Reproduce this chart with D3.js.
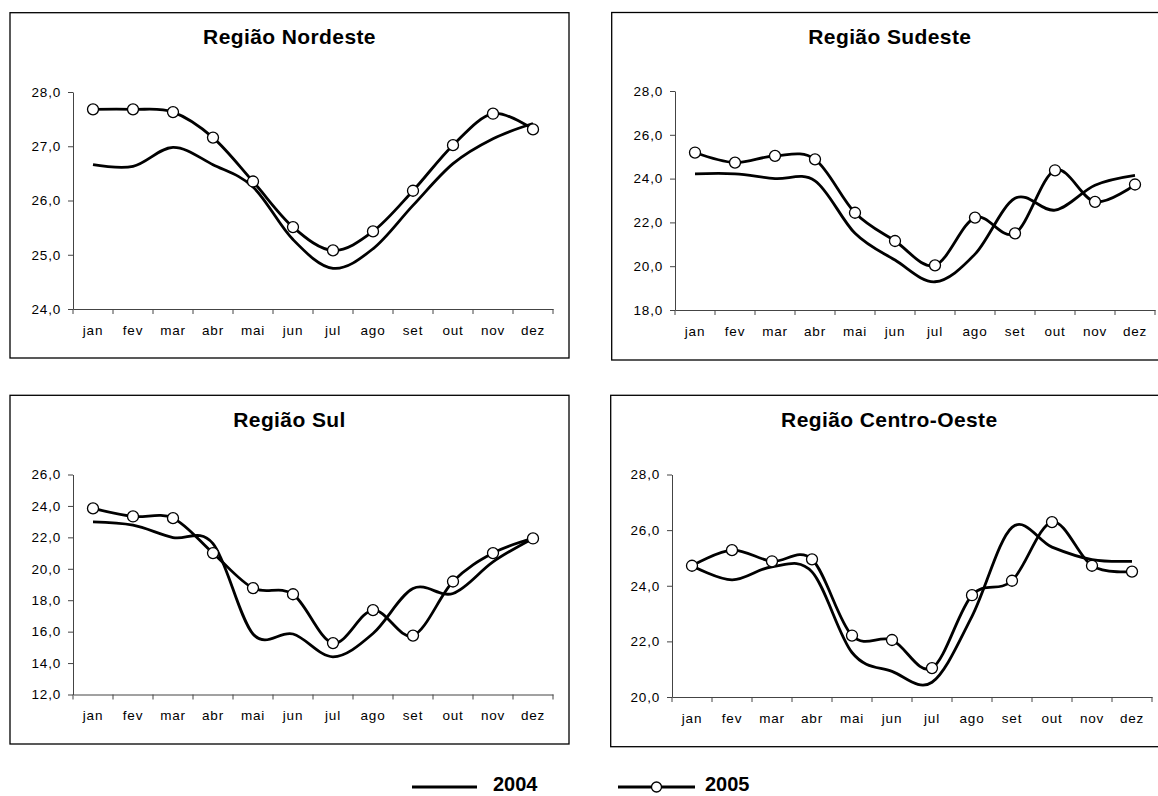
<!DOCTYPE html>
<html lang="pt">
<head>
  <meta charset="UTF-8">
  <title>Temperatura média mensal por região - 2004 e 2005</title>
  <script src="https://d3js.org/d3.v7.min.js"></script>
  <style>
    body { margin: 0; background: #fff; font-family: Arial, "Liberation Sans", sans-serif; }
    .tick text { font-size: 13.5px; letter-spacing: 0.8px; fill: #000; }
    .domain, .tick line { stroke: #444; }
    .title { font-size: 21px; font-weight: bold; letter-spacing: 0.4px; }
    .legend-text { font-size: 20px; font-weight: bold; }
  </style>
</head>
<body>
  <div id="chart"></div>
  <script>
    // dados
    const months = ["jan", "fev", "mar", "abr", "mai", "jun", "jul", "ago", "set", "out", "nov", "dez"];
    const regions = ["Região Nordeste", "Região Sudeste", "Região Sul", "Região Centro-Oeste"];

    const nordeste2004 = [26.66, 26.63, 26.98, 26.66, 26.25, 25.28, 24.75, 25.11, 25.91, 26.68, 27.14, 27.42];
    const nordeste2005 = [27.68, 27.68, 27.63, 27.16, 26.35, 25.51, 25.08, 25.43, 26.18, 27.02, 27.60, 27.31];

    const sudeste2004 = [24.22, 24.22, 24.0, 23.9, 21.5, 20.28, 19.29, 20.55, 23.1, 22.56, 23.7, 24.15];
    const sudeste2005 = [25.19, 24.73, 25.04, 24.88, 22.44, 21.15, 20.04, 22.22, 21.50, 24.38, 22.94, 23.73];

    const sul2004 = [22.99, 22.78, 21.99, 21.6, 15.85, 15.85, 14.4, 15.88, 18.74, 18.43, 20.44, 21.93];
    const sul2005 = [23.84, 23.33, 23.22, 21.0, 18.77, 18.38, 15.27, 17.37, 15.75, 19.19, 21.0, 21.93];

    const centroOeste2004 = [24.72, 24.21, 24.68, 24.5, 21.6, 20.92, 20.53, 22.9, 26.1, 25.39, 24.94, 24.88];
    const centroOeste2005 = [24.72, 25.28, 24.88, 24.95, 22.21, 22.05, 21.04, 23.66, 24.18, 26.29, 24.72, 24.51];

    const ticksNordeste = [24, 25, 26, 27, 28];
    const ticksSudeste = [18, 20, 22, 24, 26, 28];
    const ticksSul = [12, 14, 16, 18, 20, 22, 24, 26];
    const ticksCentroOeste = [20, 22, 24, 26, 28];

    const years = ["2004", "2005"];

    // posição de cada painel: moldura e área do gráfico
    const panels = [
      { title: regions[0], s2004: nordeste2004, s2005: nordeste2005, ticks: ticksNordeste,
        box: [10, 12.7, 569, 358], plot: [73, 92, 553, 309] },
      { title: regions[1], s2004: sudeste2004, s2005: sudeste2005, ticks: ticksSudeste,
        box: [611.7, 12.5, 1168, 360], plot: [675, 91, 1155, 310] },
      { title: regions[2], s2004: sul2004, s2005: sul2005, ticks: ticksSul,
        box: [10, 395.3, 569, 744], plot: [73, 474.5, 553, 694.5] },
      { title: regions[3], s2004: centroOeste2004, s2005: centroOeste2005, ticks: ticksCentroOeste,
        box: [610.7, 395.3, 1168, 746.7], plot: [672, 474.5, 1152, 697] }
    ];

    const W = 1158, H = 796;
    const svg = d3.select("#chart").append("svg")
      .attr("width", W)
      .attr("height", H);

    const ptBR = d3.formatLocale({ decimal: ",", thousands: ".", grouping: [3], currency: ["R$", ""] });
    const fmt = ptBR.format(".1f");

    function drawPanel(p) {
      const g = svg.append("g");
      const [bx0, by0, bx1, by1] = p.box;
      const [px0, py0, px1, py1] = p.plot;

      g.append("rect")
        .attr("x", bx0).attr("y", by0)
        .attr("width", bx1 - bx0).attr("height", by1 - by0)
        .attr("fill", "none")
        .attr("stroke", "#000")
        .attr("stroke-width", 1.3);

      g.append("text")
        .attr("class", "title")
        .attr("x", (bx0 + bx1) / 2)
        .attr("y", by0 + 31.5)
        .attr("text-anchor", "middle")
        .text(p.title);

      const x = d3.scaleBand().domain(months).range([px0, px1]).padding(0);
      const y = d3.scaleLinear().domain(d3.extent(p.ticks)).range([py1, py0]);

      g.append("g")
        .attr("transform", `translate(${px0},0)`)
        .call(d3.axisLeft(y).tickValues(p.ticks).tickFormat(fmt).tickSize(5).tickPadding(7).tickSizeOuter(0));

      const xAxis = g.append("g")
        .attr("transform", `translate(0,${py1})`)
        .call(d3.axisBottom(x).tickSize(0).tickPadding(16).tickSizeOuter(0));

      // marcas nas divisões entre os meses
      xAxis.selectAll("line.div")
        .data(d3.range(months.length + 1))
        .join("line")
        .attr("class", "div")
        .attr("x1", i => i < months.length ? x(months[i]) : x.range()[1])
        .attr("x2", i => i < months.length ? x(months[i]) : x.range()[1])
        .attr("y1", 0).attr("y2", 5)
        .attr("stroke", "#444");

      const cx = (d, i) => x(months[i]) + x.bandwidth() / 2;
      const line = d3.line()
        .x(cx)
        .y(d => y(d))
        .curve(d3.curveCatmullRom.alpha(0));

      g.append("path")
        .attr("d", line(p.s2004))
        .attr("fill", "none")
        .attr("stroke", "#000")
        .attr("stroke-width", 2.8);

      g.append("path")
        .attr("d", line(p.s2005))
        .attr("fill", "none")
        .attr("stroke", "#000")
        .attr("stroke-width", 2.8);

      g.selectAll("circle")
        .data(p.s2005)
        .join("circle")
        .attr("cx", cx)
        .attr("cy", d => y(d))
        .attr("r", 5.5)
        .attr("fill", "#fff")
        .attr("stroke", "#000")
        .attr("stroke-width", 1.3);
    }

    panels.forEach(drawPanel);

    // legenda
    const legend = svg.append("g");
    legend.append("line")
      .attr("x1", 412).attr("x2", 477).attr("y1", 787).attr("y2", 787)
      .attr("stroke", "#000").attr("stroke-width", 3);
    legend.append("text")
      .attr("class", "legend-text")
      .attr("x", 493).attr("y", 791)
      .text(years[0]);

    legend.append("line")
      .attr("x1", 618).attr("x2", 695).attr("y1", 787).attr("y2", 787)
      .attr("stroke", "#000").attr("stroke-width", 3);
    legend.append("circle")
      .attr("cx", 656.5).attr("cy", 787).attr("r", 5)
      .attr("fill", "#fff").attr("stroke", "#000").attr("stroke-width", 1.3);
    legend.append("text")
      .attr("class", "legend-text")
      .attr("x", 705).attr("y", 791)
      .text(years[1]);
  </script>
</body>
</html>
